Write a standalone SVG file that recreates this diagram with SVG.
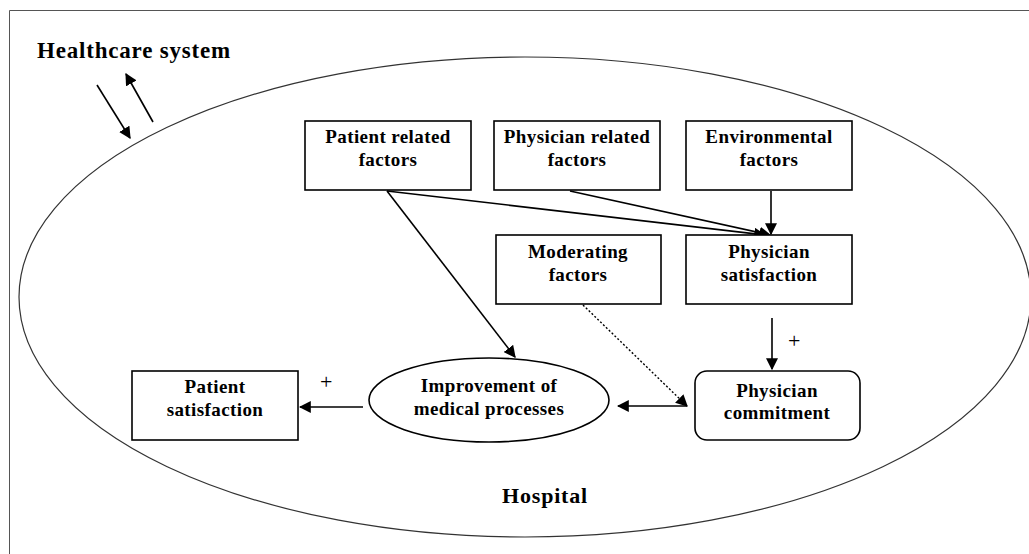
<svg xmlns="http://www.w3.org/2000/svg" width="1029" height="554" viewBox="0 0 1029 554">
<style>
.box{fill:#fff;stroke:#000;stroke-width:1.6}
.t{font-family:'Liberation Serif','Times New Roman',serif;font-weight:bold;font-size:19px;letter-spacing:0.4px;text-anchor:middle;fill:#000}
.c{stroke:#000;stroke-width:1.6;fill:none}
.pl{font-family:'Liberation Serif','Times New Roman',serif;font-size:22px;fill:#000}
</style>
<defs>
<marker id="ah" viewBox="0 0 10 10" refX="9" refY="5" markerWidth="12" markerHeight="12" markerUnits="userSpaceOnUse" orient="auto">
<path d="M0,0 L10,5 L0,10 Z" fill="#000"/>
</marker>
</defs>
<rect width="1029" height="554" fill="#fff"/>
<path d="M9.5,554 V10.5 H1029" fill="none" stroke="#555" stroke-width="1"/>
<g id="hospital">
<ellipse cx="525" cy="297" rx="506" ry="240" fill="none" stroke="#333" stroke-width="1.2"/>
<text x="545" y="503" font-family="'Liberation Serif','Times New Roman',serif" font-weight="bold" font-size="22" letter-spacing="0.8" text-anchor="middle">Hospital</text>
</g>
<g id="healthcare">
<text x="37" y="58" font-family="'Liberation Serif','Times New Roman',serif" font-weight="bold" font-size="23" letter-spacing="0.8">Healthcare system</text>
</g>
<g id="connectors">
<line class="c" x1="97" y1="85" x2="130" y2="138" marker-end="url(#ah)"/>
<line class="c" x1="153" y1="122" x2="126" y2="74" marker-end="url(#ah)"/>
<line class="c" x1="387" y1="191" x2="515" y2="357" marker-end="url(#ah)"/>
<line class="c" x1="387" y1="191" x2="765" y2="235" marker-end="url(#ah)"/>
<line class="c" x1="570" y1="191" x2="770" y2="235" marker-end="url(#ah)"/>
<line class="c" x1="771" y1="191" x2="771" y2="234" marker-end="url(#ah)"/>
<line class="c" x1="772" y1="318" x2="772" y2="369" marker-end="url(#ah)"/>
<line x1="583" y1="305" x2="687" y2="406" stroke="#000" stroke-width="1.4" stroke-dasharray="2,2" marker-end="url(#ah)"/>
<line class="c" x1="687" y1="406" x2="618" y2="406" marker-end="url(#ah)"/>
<line class="c" x1="363" y1="407" x2="300" y2="407" marker-end="url(#ah)"/>
<text class="pl" x="788" y="348">+</text>
<text class="pl" x="320" y="389">+</text>
</g>
<g id="patient-related">
<rect class="box" x="305" y="121" width="166" height="69"/>
<text class="t" x="388" y="143">Patient related</text>
<text class="t" x="388" y="166">factors</text>
</g>
<g id="physician-related">
<rect class="box" x="494" y="121" width="166" height="69"/>
<text class="t" x="577" y="143">Physician related</text>
<text class="t" x="577" y="166">factors</text>
</g>
<g id="environmental">
<rect class="box" x="686" y="121" width="166" height="69"/>
<text class="t" x="769" y="143">Environmental</text>
<text class="t" x="769" y="166">factors</text>
</g>
<g id="moderating">
<rect class="box" x="496" y="235" width="165" height="69"/>
<text class="t" x="578" y="258">Moderating</text>
<text class="t" x="578" y="281">factors</text>
</g>
<g id="physician-satisfaction">
<rect class="box" x="686" y="235" width="166" height="69"/>
<text class="t" x="769" y="258">Physician</text>
<text class="t" x="769" y="281">satisfaction</text>
</g>
<g id="patient-satisfaction">
<rect class="box" x="132" y="371" width="166" height="69"/>
<text class="t" x="215" y="393">Patient</text>
<text class="t" x="215" y="416">satisfaction</text>
</g>
<g id="improvement">
<ellipse class="box" cx="489" cy="400" rx="120" ry="42"/>
<text class="t" x="489" y="392">Improvement of</text>
<text class="t" x="489" y="415">medical processes</text>
</g>
<g id="physician-commitment">
<rect class="box" x="695" y="371" width="165" height="69" rx="12"/>
<text class="t" x="777" y="397">Physician</text>
<text class="t" x="777" y="419">commitment</text>
</g>
</svg>
